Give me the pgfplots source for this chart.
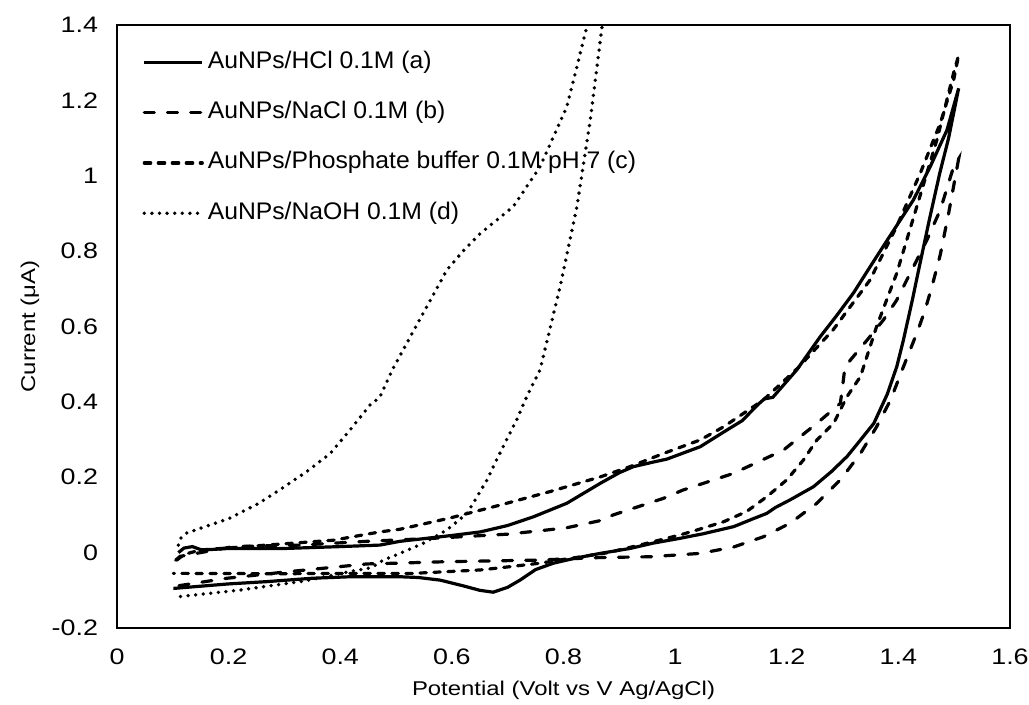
\documentclass[border=0pt]{standalone}
\usepackage{fontspec}
\setmainfont{Liberation Sans}[FakeStretch=1.2]
\newfontfamily\legfont{Liberation Sans}[FakeStretch=1.03]
\usepackage{pgfplots}
\pgfplotsset{compat=1.18}
\newcommand\tf{\fontsize{11.2bp}{14bp}\selectfont}
\newcommand\lf{\fontsize{11.5bp}{14bp}\selectfont}
\newcommand\gf{\legfont\fontsize{12bp}{14bp}\selectfont}

\begin{document}
\begin{tikzpicture}
\useasboundingbox (-58.5bp,-38.5bp) rectangle (456bp,314bp);
\begin{axis}[
  at={(0,0)}, anchor=south west,
  scale only axis, width=446.5bp, height=301.5bp,
  xmin=0, xmax=1.6, ymin=-0.2, ymax=1.4,
  xtick={0,0.2,0.4,0.6,0.8,1,1.2,1.4,1.6},
  ytick={-0.2,0,0.2,0.4,0.6,0.8,1,1.2,1.4},
  major tick length=0pt, tick style={draw=none},
  axis line style={line width=0.8bp},
  tick label style={font=\tf},
  /pgf/number format/assume math mode=true,
  xticklabel style={yshift=-7bp},
  yticklabel style={xshift=-6bp},
  xlabel={Potential (Volt vs V Ag/AgCl)},
  ylabel={Current (μA)},
  label style={font=\lf},
  every axis x label/.style={at={(axis description cs:0.5,0)}, yshift=-31bp, anchor=center},
  every axis y label/.style={at={(axis description cs:0,0.5)}, xshift=-43.5bp, rotate=90, anchor=center},
  legend style={at={(axis description cs:0,1)}, anchor=north west, xshift=12.5bp, yshift=-13bp,
    draw=none, fill=none, inner sep=0pt, font=\gf, row sep=14.15bp,
    nodes={inner sep=0pt, text height=8.5bp, text depth=2.5bp},
    /tikz/every odd column/.append style={column sep=1.8bp}},
  legend cell align=left,
  legend image code/.code={\draw[#1] (0bp,0bp) -- (29bp,0bp);},
  every axis plot/.append style={black, mark=none},
]
% (a) HCl
\addplot[line width=1.6bp] table {
0.110 0.000
0.120 0.012
0.135 0.016
0.150 0.008
0.165 0.008
0.200 0.011
0.300 0.011
0.400 0.016
0.471 0.020
0.507 0.030
0.597 0.045
0.651 0.055
0.700 0.072
0.746 0.095
0.806 0.131
0.866 0.184
0.900 0.212
0.925 0.228
0.960 0.240
0.985 0.248
1.045 0.281
1.087 0.320
1.120 0.350
1.150 0.395
1.160 0.408
1.175 0.412
1.218 0.485
1.260 0.573
1.290 0.630
1.320 0.690
1.350 0.760
1.380 0.829
1.427 0.936
1.457 1.024
1.487 1.121
1.508 1.232
1.490 1.100
1.474 1.006
1.455 0.880
1.435 0.741
1.425 0.670
1.409 0.564
1.397 0.493
1.380 0.420
1.356 0.343
1.330 0.295
1.308 0.255
1.280 0.215
1.248 0.175
1.206 0.140
1.180 0.120
1.164 0.104
1.140 0.090
1.105 0.069
1.050 0.050
1.009 0.038
0.960 0.025
0.919 0.011
0.866 -0.002
0.820 -0.015
0.782 -0.028
0.750 -0.045
0.722 -0.073
0.700 -0.092
0.674 -0.105
0.650 -0.100
0.620 -0.088
0.579 -0.073
0.540 -0.066
0.507 -0.064
0.418 -0.064
0.350 -0.068
0.268 -0.077
0.200 -0.083
0.101 -0.095
};
\addlegendentry{AuNPs/HCl 0.1M (a)}
% (b) NaCl
\addplot[line width=1.6bp, line cap=round, dash pattern=on 5bp off 6.6bp] table {
0.105 -0.020
0.113 -0.010
0.208 0.016
0.328 0.020
0.448 0.030
0.567 0.038
0.651 0.045
0.700 0.049
0.770 0.060
0.806 0.066
0.866 0.085
0.889 0.100
0.979 0.144
1.014 0.166
1.104 0.210
1.194 0.272
1.254 0.343
1.296 0.396
1.300 0.440
1.304 0.490
1.314 0.511
1.344 0.564
1.373 0.617
1.397 0.670
1.451 0.829
1.475 0.909
1.499 1.024
1.508 1.045
1.490 0.900
1.475 0.790
1.460 0.705
1.447 0.640
1.435 0.590
1.427 0.560
1.409 0.493
1.386 0.405
1.361 0.334
1.332 0.263
1.296 0.193
1.254 0.131
1.206 0.078
1.158 0.042
1.105 0.015
1.045 -0.002
0.955 -0.011
0.866 -0.013
0.750 -0.020
0.591 -0.024
0.501 -0.028
0.448 -0.030
0.304 -0.051
0.197 -0.068
0.101 -0.090
};
\addlegendentry{AuNPs/NaCl 0.1M (b)}
% (c) phosphate buffer
\addplot[line width=1.6bp, line cap=round, dash pattern=on 3.2bp off 3.8bp] table {
0.107 -0.020
0.120 -0.005
0.149 0.007
0.268 0.020
0.388 0.033
0.471 0.055
0.507 0.062
0.597 0.092
0.686 0.126
0.776 0.162
0.866 0.201
0.919 0.228
0.979 0.263
1.045 0.299
1.087 0.334
1.158 0.405
1.220 0.490
1.283 0.591
1.349 0.723
1.397 0.866
1.439 1.006
1.475 1.139
1.499 1.254
1.508 1.320
1.499 1.273
1.469 1.095
1.433 0.918
1.397 0.741
1.361 0.600
1.332 0.467
1.308 0.414
1.284 0.343
1.254 0.299
1.230 0.246
1.200 0.193
1.164 0.148
1.128 0.109
1.087 0.082
1.039 0.060
1.009 0.047
0.950 0.025
0.880 0.000
0.800 -0.018
0.758 -0.028
0.700 -0.038
0.651 -0.046
0.531 -0.055
0.400 -0.055
0.300 -0.056
0.101 -0.055
};
\addlegendentry{AuNPs/Phosphate buffer 0.1M pH 7 (c)}
% (d) NaOH
\addplot[line width=1.9bp, line cap=round, dash pattern=on 0bp off 3.8bp] table {
0.110 0.020
0.115 0.040
0.125 0.052
0.158 0.069
0.200 0.090
0.253 0.130
0.300 0.175
0.340 0.215
0.382 0.263
0.420 0.330
0.455 0.395
0.470 0.410
0.495 0.490
0.543 0.620
0.591 0.750
0.620 0.800
0.651 0.847
0.710 0.918
0.758 1.024
0.806 1.183
0.842 1.396
0.855 1.500
0.880 1.500
0.869 1.396
0.848 1.148
0.824 0.918
0.794 0.706
0.758 0.485
0.736 0.420
0.716 0.352
0.704 0.317
0.680 0.246
0.663 0.193
0.645 0.148
0.627 0.104
0.591 0.060
0.549 0.025
0.507 -0.002
0.477 -0.020
0.456 -0.040
0.418 -0.050
0.337 -0.075
0.217 -0.100
0.110 -0.117
};
\addlegendentry{AuNPs/NaOH 0.1M (d)}
\end{axis}
\end{tikzpicture}
\end{document}
